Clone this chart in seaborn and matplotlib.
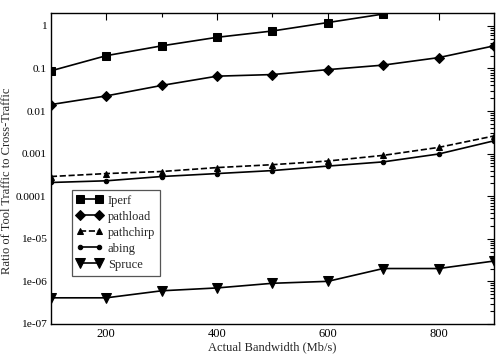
import numpy as np
import pandas as pd
import matplotlib
matplotlib.use("Agg")
import matplotlib.pyplot as plt
import seaborn as sns
from matplotlib.ticker import LogLocator, FixedLocator, NullFormatter

bandwidth = [100, 200, 300, 400, 500, 600, 700, 800, 900]
iperf_x = [100, 200, 300, 400, 500, 600, 700]
iperf = [0.088, 0.2, 0.34, 0.54, 0.76, 1.2, 1.9]
pathload = [0.0142, 0.0227, 0.040, 0.066, 0.072, 0.094, 0.12, 0.18, 0.34]
pathchirp = [0.00029, 0.00034, 0.00038, 0.00047, 0.00055, 0.00067, 0.00091, 0.0014, 0.0026]
abing = [0.00021, 0.00023, 0.00029, 0.00034, 0.00040, 0.00051, 0.00064, 0.00098, 0.0020]
spruce = [4.1e-7, 4.1e-7, 6e-7, 7e-7, 9e-7, 1e-6, 2e-6, 2e-6, 3e-6]
y_tick_labels = ["1e-07", "1e-06", "1e-05", "0.0001", "0.001", "0.01", "0.1", "1"]

frames = [
    pd.DataFrame({"x": iperf_x, "y": iperf, "tool": "Iperf"}),
    pd.DataFrame({"x": bandwidth, "y": pathload, "tool": "pathload"}),
    pd.DataFrame({"x": bandwidth, "y": pathchirp, "tool": "pathchirp"}),
    pd.DataFrame({"x": bandwidth, "y": abing, "tool": "abing"}),
    pd.DataFrame({"x": bandwidth, "y": spruce, "tool": "Spruce"}),
]

sns.set_style("white")
plt.rcParams["font.family"] = ["Liberation Serif", "DejaVu Serif"]

fig = plt.figure(figsize=(4.99, 3.54), dpi=100)
ax = fig.add_axes([0.102, 0.085, 0.888, 0.878])

styles = {
    "Iperf": dict(marker="s", ms=6.0, ls="-"),
    "pathload": dict(marker="D", ms=5.5, ls="-"),
    "pathchirp": dict(marker="^", ms=5.0, ls="--"),
    "abing": dict(marker="o", ms=3.2, ls="-"),
    "Spruce": dict(marker="v", ms=6.5, ls="-"),
}
for df in frames:
    name = df["tool"].iloc[0]
    st = styles[name]
    sns.lineplot(data=df, x="x", y="y", ax=ax, color="black", linewidth=1.2,
                 marker=st["marker"], markersize=st["ms"], linestyle=st["ls"],
                 markeredgecolor="black", label=name, estimator=None)

ax.set_yscale("log")
ax.set_xlim(100, 900)
ax.set_ylim(1e-7, 2.0)
ax.xaxis.set_major_locator(FixedLocator([200, 400, 600, 800]))
ax.xaxis.set_minor_locator(FixedLocator([300, 500, 700]))
ax.set_yticks([1e-7, 1e-6, 1e-5, 1e-4, 1e-3, 1e-2, 1e-1, 1])
ax.set_yticklabels(y_tick_labels)
ax.yaxis.set_minor_locator(LogLocator(base=10, subs=np.arange(2, 10), numticks=20))
ax.yaxis.set_minor_formatter(NullFormatter())
ax.tick_params(which="both", direction="in", top=True, right=True, colors="black")
ax.tick_params(axis="x", labelsize=9, pad=3)
ax.tick_params(axis="y", labelsize=8.2, pad=3)
ax.tick_params(which="major", length=5, width=0.8)
ax.tick_params(which="minor", length=3, width=0.8)
for s in ax.spines.values():
    s.set_color("black")
    s.set_linewidth(1.0)

ax.set_xlabel("Actual Bandwidth (Mb/s)", fontsize=9, labelpad=1)
ax.set_ylabel("Ratio of Tool Traffic to Cross-Traffic", fontsize=9)
ax.yaxis.set_label_coords(-0.085, 0.46)

leg = ax.legend(loc="lower left", bbox_to_anchor=(0.047, 0.155), fontsize=9,
                frameon=True, fancybox=False, edgecolor="#555555", framealpha=1,
                handlelength=2.1, handletextpad=0.4, borderpad=0.4,
                labelspacing=0.32, numpoints=2, borderaxespad=0)
leg.get_frame().set_linewidth(0.9)

fig.savefig("out.png", dpi=100)
